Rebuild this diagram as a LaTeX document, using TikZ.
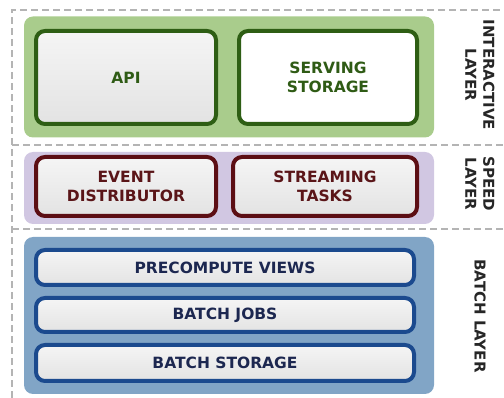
\documentclass[tikz,border=0pt]{standalone}
\usepackage{fontspec}
\setmainfont{DejaVu Sans}
\definecolor{gpanel}{HTML}{A9CC8C}
\definecolor{gline}{HTML}{2E5E14}
\definecolor{gtext}{HTML}{2F5B15}
\definecolor{ppanel}{HTML}{D1C7E2}
\definecolor{pline}{HTML}{5C0E14}
\definecolor{ptext}{HTML}{5A1518}
\definecolor{bpanel}{HTML}{81A5C6}
\definecolor{bline}{HTML}{1B4A8E}
\definecolor{btext}{HTML}{1C2750}
\definecolor{dash}{HTML}{B4B4B4}
\begin{document}
\begin{tikzpicture}[x=1pt,y=-1pt,
  panel/.style={rectangle,rounded corners=9pt,draw=none,inner sep=0pt},
  box/.style={rectangle,rounded corners=9pt,line width=4pt,inner sep=0pt,align=center,
    font=\fontsize{15.5}{19}\selectfont\bfseries},
  graybox/.style={box,top color=white!96!black,bottom color=white!89!black},
  sep/.style={draw=dash,line width=1.3pt,dash pattern=on 7pt off 4pt},
  layerlabel/.style={align=center,rotate=-90,text=black!85,font=\fontsize{15}{18}\selectfont\bfseries}]
\useasboundingbox (0,0) rectangle (504,398);
% dashed separators
\coordinate (tl) at (12,10);
\coordinate (tr) at (504,10);
\coordinate (bl) at (12,398);
\coordinate (m1l) at (12,145);
\coordinate (m1r) at (504,145);
\coordinate (m2l) at (12,229);
\coordinate (m2r) at (504,229);
\draw[sep] (bl) -- (tl) -- (tr);
\draw[sep] (m1l) -- (m1r);
\draw[sep] (m2l) -- (m2r);
% panels
\node[panel,fill=gpanel,minimum width=410pt,minimum height=121pt] (gp) at (229,77) {};
\node[panel,fill=ppanel,minimum width=410pt,minimum height=72pt] (pp) at (229,188) {};
\node[panel,fill=bpanel,minimum width=410pt,minimum height=157pt] (bp) at (229,315.5) {};
% interactive layer
\node[graybox,draw=gline,text=gtext,minimum width=180pt,minimum height=93pt] (api) at (126,77.5) {API};
\node[box,fill=white,draw=gline,text=gtext,minimum width=178pt,minimum height=93pt] (serv) at (328,77.5) {SERVING\\STORAGE};
% speed layer
\node[graybox,draw=pline,text=ptext,minimum width=180pt,minimum height=59pt] (event) at (126,186.5) {EVENT\\DISTRIBUTOR};
\node[graybox,draw=pline,text=ptext,minimum width=184pt,minimum height=59pt] (stream) at (325,186.5) {STREAMING\\TASKS};
% batch layer
\node[graybox,draw=bline,text=btext,minimum width=378pt,minimum height=35pt] (pre) at (225,267.5) {PRECOMPUTE VIEWS};
\node[graybox,draw=bline,text=btext,minimum width=378pt,minimum height=34pt] (jobs) at (225,315) {BATCH JOBS};
\node[graybox,draw=bline,text=btext,minimum width=378pt,minimum height=36pt] (stor) at (225,363) {BATCH STORAGE};
% layer labels
\node[layerlabel] (il) at (480,75) {INTERACTIVE\\LAYER};
\node[layerlabel] (sl) at (480,184) {SPEED\\LAYER};
\node[layerlabel] (bl2) at (480,316) {BATCH LAYER};
\end{tikzpicture}
\end{document}
